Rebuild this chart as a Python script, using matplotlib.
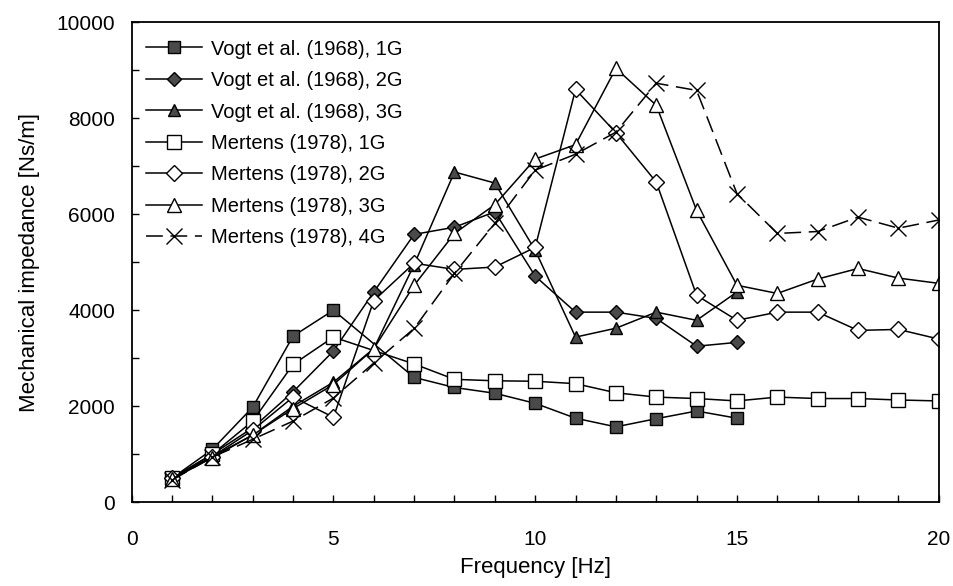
import numpy as np
import matplotlib
matplotlib.use("Agg")
import matplotlib.pyplot as plt
from matplotlib.ticker import MultipleLocator

plt.rcParams['font.family'] = ['Liberation Sans', 'DejaVu Sans']

## data (frequency in Hz, impedance in Ns/m)
## no visible marker at 6 Hz for the two 1G series
f_vogt_1g = [1, 2, 3, 4, 5, 7, 8, 9, 10, 11, 12, 13, 14, 15]
vogt_1g = [500, 1100, 1980, 3460, 4000, 2600, 2390, 2270, 2060, 1750, 1570, 1740, 1900, 1750]
f_vogt = np.arange(1, 16)
vogt_2g = [500, 1000, 1550, 2300, 3150, 4380, 5580, 5730, 6050, 4710, 3960, 3960, 3830, 3250, 3330]
vogt_3g = [480, 950, 1400, 2000, 2500, 3200, 4950, 6880, 6650, 5250, 3440, 3625, 3960, 3790, 4380]

f_mert_1g = [1, 2, 3, 4, 5] + list(range(7, 21))
mert_1g = [500, 1000, 1690, 2870, 3440, 2880, 2560, 2530, 2520, 2470, 2280, 2190, 2160, 2110,
           2190, 2160, 2160, 2130, 2110]
f_mert = np.arange(1, 21)
mert_2g = [500, 950, 1500, 2190, 1770, 4200, 4980, 4850, 4900, 5310, 8600, 7700, 6670, 4310, 3790,
           3960, 3960, 3580, 3600, 3400]
mert_3g = [480, 930, 1400, 1950, 2450, 3200, 4520, 5600, 6200, 7150, 7450, 9040, 8270, 6080, 4520,
           4350, 4650, 4870, 4670, 4560]
mert_4g = [460, 940, 1310, 1690, 2170, 2900, 3620, 4770, 5810, 6920, 7250, 7710, 8730, 8580, 6430,
           5600, 5640, 5940, 5710, 5880]

labels = ["Vogt et al. (1968), 1G", "Vogt et al. (1968), 2G", "Vogt et al. (1968), 3G",
          "Mertens (1978), 1G", "Mertens (1978), 2G", "Mertens (1978), 3G", "Mertens (1978), 4G"]

fig = plt.figure(figsize=(9.54, 5.86), dpi=100)
ax = fig.add_axes([0.138, 0.143, 0.846, 0.819])

fill = '#4a4a4a'
kw = dict(color='black', lw=1.1, mec='black', mew=1.0)
ax.plot(f_vogt_1g, vogt_1g, marker='s', ms=9, mfc=fill, label=labels[0], **kw)
ax.plot(f_vogt, vogt_2g, marker='D', ms=7, mfc=fill, label=labels[1], **kw)
ax.plot(f_vogt, vogt_3g, marker='^', ms=9, mfc=fill, label=labels[2], **kw)
ax.plot(f_mert_1g, mert_1g, marker='s', ms=10, mfc='white', label=labels[3], **kw)
ax.plot(f_mert, mert_2g, marker='D', ms=8, mfc='white', label=labels[4], **kw)
ax.plot(f_mert, mert_3g, marker='^', ms=10, mfc='white', label=labels[5], **kw)
ax.plot(f_mert, mert_4g, marker='x', ms=11, mfc='white', linestyle=(0, (11, 5)),
        label=labels[6], **kw)

ax.set_xlim(0, 20)
ax.set_ylim(0, 10000)
ax.xaxis.set_major_locator(MultipleLocator(5))
ax.xaxis.set_minor_locator(MultipleLocator(1))
ax.yaxis.set_major_locator(MultipleLocator(2000))
ax.yaxis.set_minor_locator(MultipleLocator(1000))
ax.tick_params(which='both', direction='in', length=5, width=1, labelsize=15)
ax.tick_params(axis='x', which='major', pad=20)
ax.tick_params(axis='y', which='major', pad=12)
for s in ax.spines.values():
    s.set_linewidth(1.3)

ax.set_xlabel('Frequency [Hz]', fontsize=16, labelpad=6)
ax.set_ylabel('Mechanical impedance [Ns/m]', fontsize=16, labelpad=12)

ax.legend(loc='upper left', bbox_to_anchor=(0.005, 0.985), frameon=False, fontsize=14.5,
          numpoints=1, handlelength=2.8, handletextpad=0.45, labelspacing=0.62,
          borderaxespad=0.2, borderpad=0.3)

fig.savefig('out.png', dpi=100)
